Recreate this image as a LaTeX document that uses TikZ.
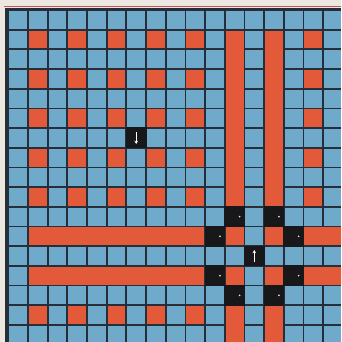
\documentclass[tikz,border=0pt]{standalone}
\usetikzlibrary{arrows.meta}
\definecolor{cellblue}{RGB}{112,170,202}
\definecolor{cellred}{RGB}{226,90,58}
\definecolor{gridc}{RGB}{38,46,58}
\definecolor{paper}{RGB}{236,232,224}
\definecolor{edgered}{RGB}{200,80,90}
\definecolor{blk}{RGB}{24,24,26}
\tikzset{
  gridline/.style={draw=gridc, line width=1.8pt},
  redblock/.style={fill=cellred},
  blackcell/.style={fill=blk},
  knob/.style={fill=white!85!gray},
  whitearrow/.style={draw=white, line width=1.3pt, -{Stealth[length=3.2pt,width=3.6pt]}}
}
\newcommand{\ox}{8.3}
\newcommand{\oy}{10}
\newcommand{\pp}{19.68}
% red rectangle covering columns #1..#3 and rows #2..#4
\newcommand{\redrect}[4]{\fill[redblock] ({\ox+#1*\pp+0.9},{\oy+#2*\pp+0.9}) rectangle ({\ox+(#3+1)*\pp-0.9},{\oy+(#4+1)*\pp-0.9});}
\newcommand{\blackcell}[2]{\fill[blackcell] ({\ox+#1*\pp-0.6},{\oy+#2*\pp-0.6}) rectangle ({\ox+(#1+1)*\pp+0.6},{\oy+(#2+1)*\pp+0.6});}
\newcommand{\knobcell}[2]{\blackcell{#1}{#2}\fill[knob] ({\ox+(#1+0.5)*\pp+5},{\oy+(#2+0.5)*\pp}) circle (0.9);}
\begin{document}
\begin{tikzpicture}[x=1pt,y=-1pt]
\useasboundingbox (0,0) rectangle (341,342);
\fill[paper] (0,0) rectangle (341,342);
\begin{scope}
\clip (0,0) rectangle (341,342);
\fill[cellblue] (\ox,\oy) rectangle (341,342);
% grid
\foreach \k in {0,...,17}{
  \draw[gridline] ({\ox+\k*\pp},\oy) -- ({\ox+\k*\pp},342);
  \draw[gridline] (\ox,{\oy+\k*\pp}) -- (341,{\oy+\k*\pp});
}
% isolated red cells
\foreach \r in {1,3,5,7,9}{
  \foreach \c in {1,3,5,7,9,15}{ \redrect{\c}{\r}{\c}{\r} }
}
\foreach \c in {1,3,5,7,9}{ \redrect{\c}{15}{\c}{15} }
% vertical stripes
\foreach \c in {11,13}{
  \redrect{\c}{1}{\c}{9}
  \redrect{\c}{11}{\c}{11}
  \redrect{\c}{13}{\c}{13}
  \redrect{\c}{15}{\c}{16}
}
% horizontal stripes
\foreach \r in {11,13}{
  \redrect{1}{\r}{9}{\r}
  \redrect{15}{\r}{16}{\r}
}
% black cells
\knobcell{11}{10}
\knobcell{13}{10}
\knobcell{10}{11}
\knobcell{14}{11}
\knobcell{10}{13}
\knobcell{14}{13}
\knobcell{11}{14}
\knobcell{13}{14}
\blackcell{12}{12}
\blackcell{6}{6}
\draw[whitearrow] ({\ox+6.5*\pp},{\oy+6.5*\pp-6}) -- ({\ox+6.5*\pp},{\oy+6.5*\pp+6});
\draw[whitearrow] ({\ox+12.5*\pp},{\oy+12.5*\pp+6}) -- ({\ox+12.5*\pp},{\oy+12.5*\pp-6});
% outer border
\draw[edgered, line width=1pt] (4,6.8) -- (341,6.8);
\draw[gridc, line width=2.6pt] (5,9.2) -- (341,9.2);
\draw[gridc, line width=3.6pt] (6.9,8) -- (6.9,342);
\end{scope}
\end{tikzpicture}
\end{document}
